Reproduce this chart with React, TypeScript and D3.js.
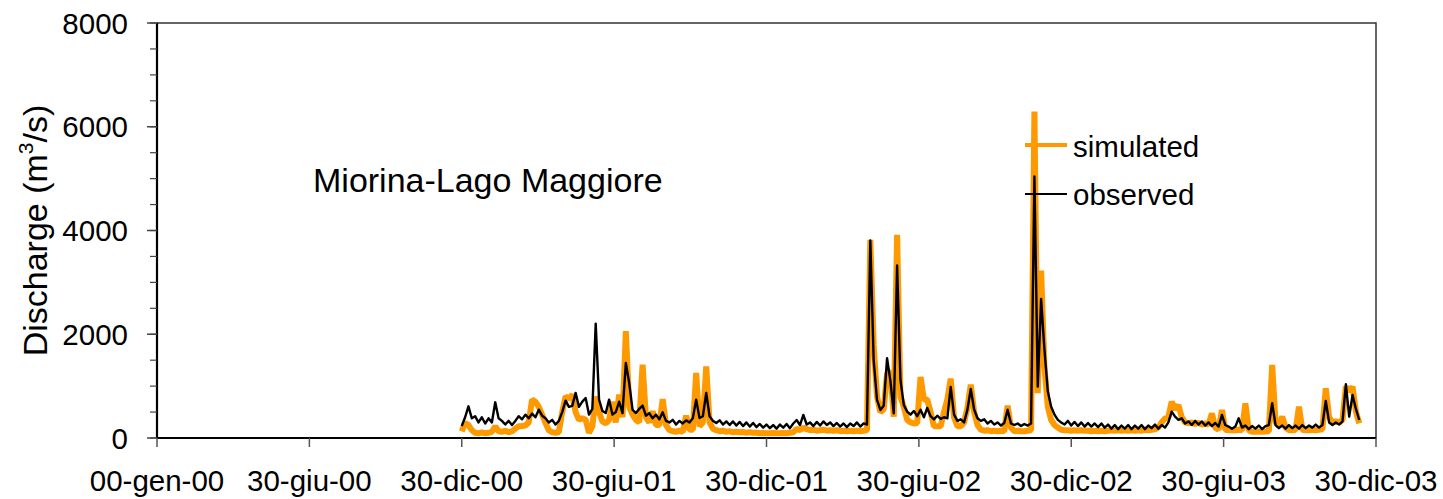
import React from "react";
import * as d3 from "d3";

// x axis: Excel serial day numbers (00-gen-00 = 0), major unit 182 days
const xTickValues = [0, 182, 364, 546, 728, 910, 1092, 1274, 1456];
const xTickLabels = [
  "00-gen-00", "30-giu-00", "30-dic-00", "30-giu-01", "30-dic-01",
  "30-giu-02", "30-dic-02", "30-giu-03", "30-dic-03",
];
const yTickValues = [0, 2000, 4000, 6000, 8000];
const yMinorValues = d3.range(0, 8001, 500);

// sampling of the series: first serial day and step (days)
const startDay = 364;
const stepDays = 4;

// observed discharge (m3/s)
const observed = [
  231, 400, 611, 380, 420, 300, 400, 280, 380, 300,
  688, 380, 330, 260, 330, 250, 330, 420, 360, 450,
  380, 470, 400, 546, 430, 380, 300, 350, 260, 330,
  500, 720, 600, 620, 870, 600, 700, 770, 450, 560,
  2205, 740, 520, 480, 740, 450, 500, 700, 480, 1447,
  1060, 545, 480, 560, 624, 430, 480, 380, 450, 360,
  495, 330, 300, 350, 260, 330, 280, 340, 300, 380,
  740, 386, 420, 868, 420, 330, 290, 340, 260, 320,
  250, 320, 240, 310, 230, 300, 220, 290, 210, 270,
  200, 260, 190, 250, 180, 260, 200, 270, 190, 280,
  347, 250, 444, 260, 300, 230, 310, 240, 320, 250,
  300, 230, 290, 220, 280, 210, 280, 230, 300, 220,
  280, 260, 3807, 1500, 733, 540, 620, 1537, 1100, 476,
  3324, 1119, 636, 508, 450, 520, 420, 546, 400, 580,
  420, 360, 430, 370, 400, 380, 984, 450, 330, 360,
  300, 546, 945, 550, 380, 330, 360, 280, 330, 260,
  300, 240, 290, 546, 280, 250, 280, 230, 270, 240,
  280, 5041, 990, 2681, 1700, 900, 604, 450, 350, 300,
  260, 330, 240, 310, 230, 300, 220, 290, 220, 280,
  210, 280, 200, 260, 180, 250, 170, 240, 180, 250,
  170, 240, 180, 250, 170, 240, 190, 260, 180, 250,
  200, 300, 508, 411, 350, 380, 280, 320, 250, 330,
  260, 320, 240, 300, 230, 290, 220, 444, 250, 220,
  180, 220, 380, 200, 240, 170, 230, 180, 240, 170,
  230, 250, 669, 250, 190, 240, 180, 250, 190, 240,
  180, 250, 190, 240, 200, 260, 200, 250, 714, 300,
  250, 300, 260, 320, 1035, 411, 830, 560, 347,
];

// simulated discharge (m3/s)
const simulated = [
  130, 290, 250, 150, 100, 90, 110, 90, 100, 120,
  225, 130, 120, 140, 110, 130, 180, 225, 230, 240,
  300, 740, 700, 600, 450, 290, 150, 110, 100, 110,
  500, 800, 760, 836, 500, 350, 380, 350, 100, 225,
  800, 500, 320, 280, 350, 700, 300, 836, 400, 2058,
  600, 450, 350, 300, 1415, 400, 300, 515, 250, 250,
  750, 250, 150, 130, 120, 140, 120, 430, 160, 160,
  1254, 225, 300, 1382, 300, 180, 150, 130, 140, 120,
  130, 110, 120, 110, 115, 100, 110, 100, 100, 90,
  95, 90, 90, 95, 90, 90, 95, 90, 100, 110,
  180, 150, 200, 170, 150, 160, 140, 150, 160, 140,
  150, 140, 150, 130, 140, 130, 140, 130, 140, 130,
  140, 150, 3820, 1794, 800, 500, 550, 1250, 1280, 411,
  3916, 800, 600, 350, 300, 280, 290, 1177, 740, 740,
  500, 225, 225, 225, 500, 740, 1145, 400, 225, 225,
  300, 580, 1030, 500, 250, 160, 140, 150, 130, 140,
  130, 140, 130, 624, 200, 130, 140, 130, 130, 140,
  150, 6295, 862, 3228, 1376, 600, 347, 250, 200, 160,
  150, 150, 140, 150, 140, 150, 140, 140, 130, 140,
  130, 140, 130, 140, 150, 140, 150, 140, 150, 140,
  150, 140, 150, 140, 160, 150, 160, 170, 200, 300,
  380, 400, 700, 550, 636, 400, 300, 280, 300, 270,
  290, 260, 280, 260, 475, 200, 160, 540, 160, 150,
  150, 150, 160, 150, 669, 150, 120, 120, 125, 120,
  125, 130, 1408, 300, 250, 411, 200, 150, 150, 160,
  604, 160, 150, 150, 160, 150, 160, 170, 958, 400,
  300, 320, 300, 350, 990, 900, 990, 508, 283,
];

const seriesNames = ["simulated", "observed"];
const stationName = "Miorina-Lago Maggiore";

const FONT = "'Liberation Sans', Arial, Helvetica, sans-serif";
const FS = 29.5;
const FS_TITLE = 34;

export default function App() {
  const W = 1443;
  const H = 499;
  const left = 157, right = 1376, top = 23, bottom = 438;
  const x = d3.scaleLinear().domain([0, 1456]).range([left, right]);
  const y = d3.scaleLinear().domain([0, 8000]).range([bottom, top]);
  const days = d3.range(observed.length).map((i) => startDay + stepDays * i);

  const line = d3
    .line<number>()
    .x((_, i) => x(days[i]))
    .y((d) => y(d));

  return (
    <svg
      width={W}
      height={H}
      style={{ position: "absolute", left: 0, top: 0, background: "#fff" }}
      fontFamily={FONT}
    >
      <rect x={0} y={0} width={W} height={H} fill="#fff" />
      {/* plot frame */}
      <rect
        x={left}
        y={top}
        width={right - left}
        height={bottom - top}
        fill="none"
        stroke="#333"
        strokeWidth={1.5}
      />
      {/* series */}
      <path
        d={line(simulated) || ""}
        fill="none"
        stroke="#FF9900"
        strokeWidth={6}
        strokeLinejoin="bevel"
      />
      <path
        d={line(observed) || ""}
        fill="none"
        stroke="#000"
        strokeWidth={2.4}
        strokeLinejoin="round"
      />
      {/* axes */}
      <line x1={left} x2={left} y1={top} y2={bottom} stroke="#000" strokeWidth={2.2} />
      <line x1={left} x2={right} y1={bottom} y2={bottom} stroke="#000" strokeWidth={2.2} />
      {yMinorValues.map((v) => (
        <line
          key={"m" + v}
          x1={left - 7}
          x2={left}
          y1={y(v)}
          y2={y(v)}
          stroke="#444"
          strokeWidth={1.2}
        />
      ))}
      {yTickValues.map((v) => (
        <g key={"y" + v}>
          <line x1={left - 10} x2={left} y1={y(v)} y2={y(v)} stroke="#444" strokeWidth={1.5} />
          <text
            x={128}
            y={y(v)}
            textAnchor="end"
            dominantBaseline="central"
            fontSize={FS}
            fill="#000"
          >
            {v}
          </text>
        </g>
      ))}
      {xTickValues.map((v, i) => (
        <g key={"x" + v}>
          <line x1={x(v)} x2={x(v)} y1={bottom} y2={bottom + 9} stroke="#555" strokeWidth={1.5} />
          <text x={x(v)} y={491} textAnchor="middle" fontSize={FS} fill="#000">
            {xTickLabels[i]}
          </text>
        </g>
      ))}
      {/* y axis title */}
      <text
        transform={`translate(47, ${(top + bottom) / 2}) rotate(-90)`}
        textAnchor="middle"
        fontSize={FS_TITLE}
        fill="#000"
      >
        Discharge (m
        <tspan fontSize={FS_TITLE * 0.62} dy={-14}>3</tspan>
        <tspan dy={14}>/s)</tspan>
      </text>
      {/* station label */}
      <text x={313} y={192} fontSize={FS_TITLE} fill="#000">
        {stationName}
      </text>
      {/* legend */}
      <line x1={1025} x2={1067} y1={145} y2={145} stroke="#FF9900" strokeWidth={4} />
      <text x={1073} y={157} fontSize={FS} fill="#000">
        {seriesNames[0]}
      </text>
      <line x1={1025} x2={1067} y1={194} y2={194} stroke="#000" strokeWidth={2} />
      <text x={1073} y={205} fontSize={FS} fill="#000">
        {seriesNames[1]}
      </text>
    </svg>
  );
}
